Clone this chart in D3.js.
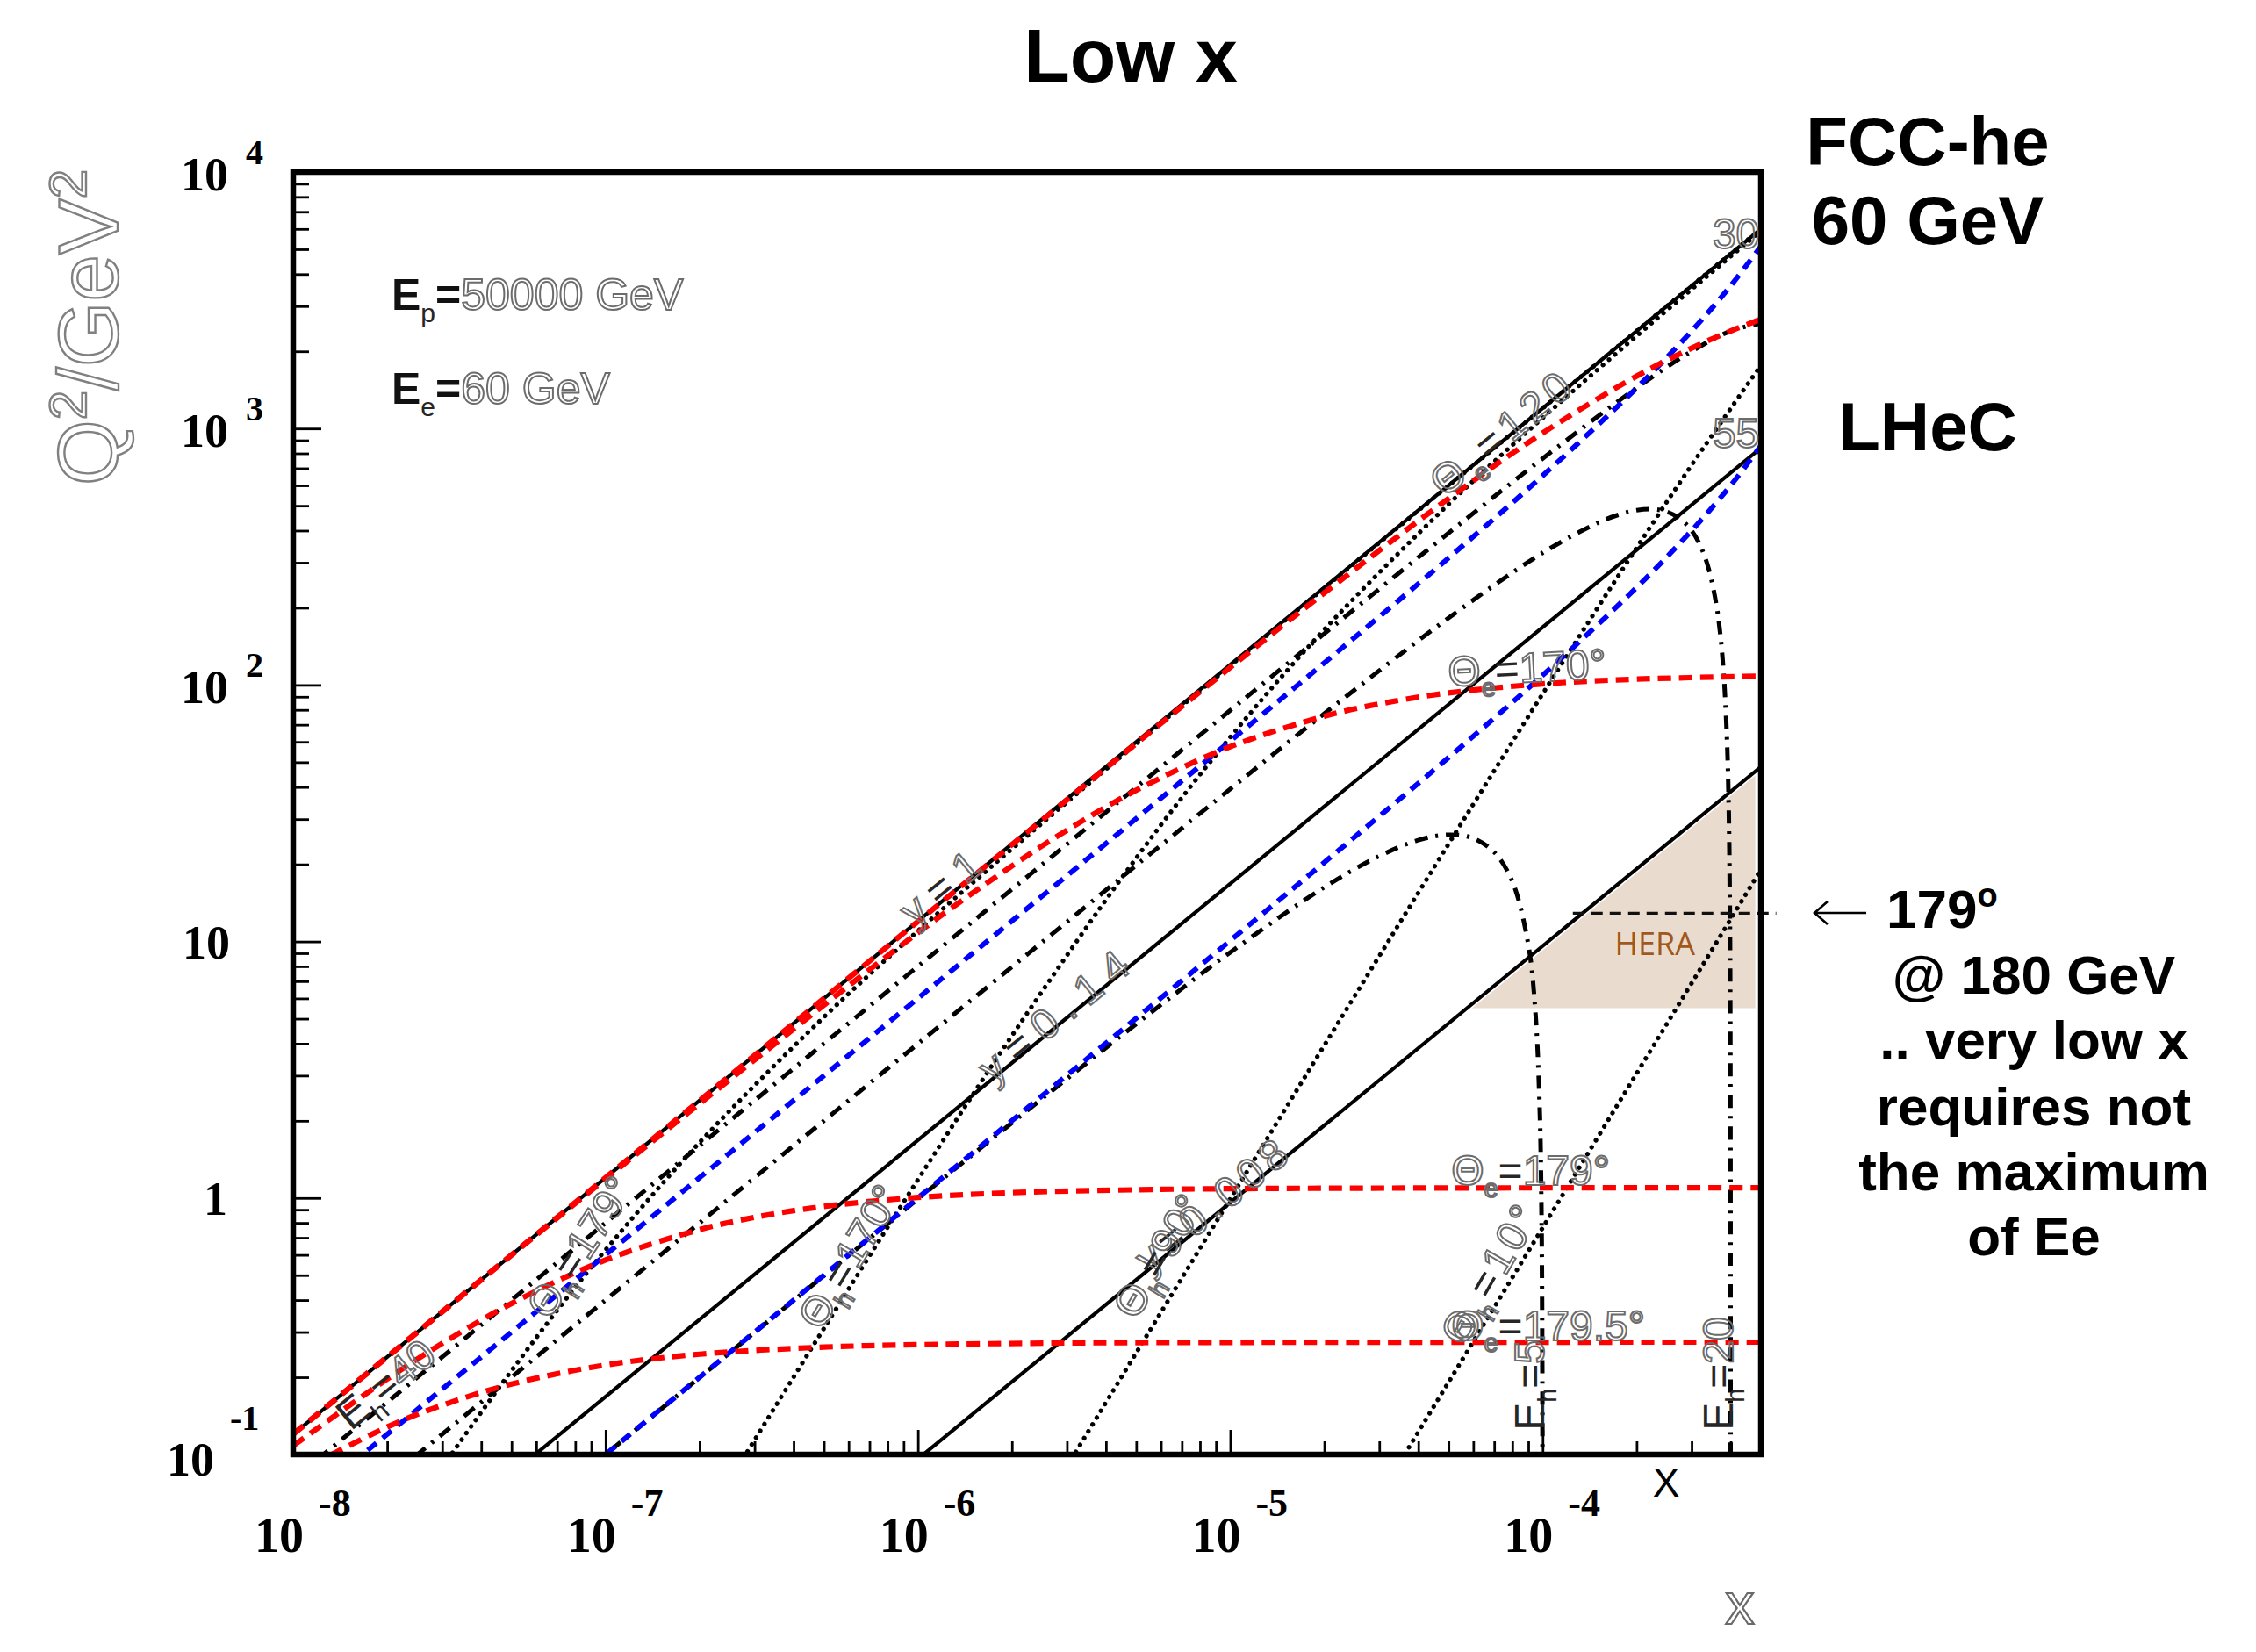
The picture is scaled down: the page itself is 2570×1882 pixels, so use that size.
<!DOCTYPE html>
<html>
<head>
<meta charset="utf-8">
<title>Low x</title>
<script src="https://cdn.jsdelivr.net/npm/d3@7/dist/d3.min.js"></script>
<style>
  html, body { margin: 0; padding: 0; background: #ffffff; }
  svg { display: block; }
</style>
</head>
<body>
<svg id="chart" width="2570" height="1882"></svg>
<script>
// ---------- axis ranges and tick labels ----------
const xDomain = [1e-8, 5e-4];
const yDomain = [0.1, 1e4];
const xTickExponents = [-8, -7, -6, -5, -4];
const yTickExponents = [4, 3, 2, 1, 0, -1];

// ---------- kinematic lines, points are [x, Q^2 (GeV^2)] ----------
// constant inelasticity y
const lineY1    = [[1e-8, 0.12], [5e-4, 6000]];
const lineY014  = [[5e-8, 0.084], [5e-4, 840]];
const lineY0008 = [[1e-6, 0.096], [5e-4, 48]];

// constant scattered-electron angle
const thetaE120 = [[1e-8, 0.12], [1e-7, 1.2], [1e-6, 11.97], [1e-5, 117.1], [2e-5, 228.6], [5e-5, 533.3],
                   [1e-4, 960], [2e-4, 1600], [3e-4, 2057], [4e-4, 2400], [5e-4, 2667]];
const thetaE170 = [[1e-8, 0.12], [1e-7, 1.187], [1e-6, 10.82], [2e-6, 19.71], [3e-6, 27.14], [5e-6, 38.86],
                   [1e-5, 57.47], [2e-5, 75.55], [3e-5, 84.41], [5e-5, 93.15], [1e-4, 101.0], [2e-4, 105.4], [5e-4, 108.3]];
const thetaE179 = [[1e-8, 0.1082], [2e-8, 0.1969], [3e-8, 0.2710], [5e-8, 0.3878], [1e-7, 0.5730], [2e-7, 0.7527],
                   [3e-7, 0.8406], [5e-7, 0.9271], [1e-6, 1.005], [2e-6, 1.049], [5e-6, 1.077], [1e-5, 1.0875],
                   [1e-4, 1.0956], [5e-4, 1.0964]];
const thetaE1795 = [[1e-8, 0.08347], [2e-8, 0.1280], [3e-8, 0.1556], [5e-8, 0.1882], [1e-7, 0.2232], [2e-7, 0.2461],
                    [5e-7, 0.2622], [1e-6, 0.2680], [3e-6, 0.2721], [1e-5, 0.2735], [5e-4, 0.2742]];

// constant scattered-electron energy
const eElec30 = [[1e-8, 0.06], [1e-7, 0.6], [1e-6, 6.005], [1e-5, 60.5], [2e-5, 122.0], [5e-5, 313.0],
                 [1e-4, 654.5], [2e-4, 1440], [3e-4, 2400], [4e-4, 3600], [5e-4, 5143]];
const eElec55 = [[1e-8, 0.01], [1e-7, 0.1], [1e-6, 1.0008], [1e-5, 10.08], [2e-5, 20.34], [5e-5, 52.17],
                 [1e-4, 109.1], [2e-4, 240], [3e-4, 400], [4e-4, 600], [5e-4, 857.1]];

// constant hadronic final-state energy
const eHad40 = [[1e-8, 0.08], [1e-7, 0.8], [1e-6, 7.997], [1e-5, 79.66], [2e-5, 158.6], [5e-5, 391.3],
                [1e-4, 763.6], [2e-4, 1440], [3e-4, 2000], [4e-4, 2400], [5e-4, 2571]];
const eHad20 = [[1e-8, 0.04], [1e-7, 0.4], [1e-6, 3.993], [1e-5, 39.33], [2e-5, 77.29], [5e-5, 182.6],
                [1e-4, 327.3], [1.5e-4, 428.6], [1.75e-4, 461.0], [2e-4, 480], [2.25e-4, 484.6], [2.5e-4, 473.7],
                [2.75e-4, 445.9], [3e-4, 400], [3.2e-4, 349.1], [3.4e-4, 284.7], [3.6e-4, 205.7], [3.7e-4, 160.5],
                [3.8e-4, 111.2], [3.9e-4, 57.78], [3.95e-4, 29.44], [3.98e-4, 11.91], [3.99e-4, 5.977],
                [3.995e-4, 2.994], [3.998e-4, 1.199], [3.999e-4, 0.5998], [3.9998e-4, 0.12], [3.99995e-4, 0.03]];
const eHad5 = [[1e-8, 0.01], [1e-7, 0.1], [1e-6, 0.9908], [2e-6, 1.963], [5e-6, 4.770], [1e-5, 9.076],
               [2e-5, 16.27], [3e-5, 21.54], [4e-5, 24.83], [5e-5, 26.09], [6e-5, 25.26], [7e-5, 22.30],
               [8e-5, 17.14], [9e-5, 9.730], [9.5e-5, 5.158], [9.8e-5, 2.134], [9.9e-5, 1.079],
               [9.95e-5, 0.5425], [9.98e-5, 0.2177], [9.99e-5, 0.109], [9.995e-5, 0.0545]];

// constant hadronic angle
const thetaH179 = [[1e-8, 0.01184], [2e-8, 0.04309], [3e-8, 0.08898], [4e-8, 0.1461], [5e-8, 0.2122], [7e-8, 0.3644],
                   [1e-7, 0.6270], [2e-7, 1.647], [5e-7, 5.073], [1e-6, 10.995], [2e-6, 22.95], [5e-6, 58.92],
                   [1e-5, 118.9], [1e-4, 1198.9], [5e-4, 5998.9]];
const thetaH170 = [[1e-7, 0.0129], [2e-7, 0.05115], [3e-7, 0.1139], [5e-7, 0.3098], [1e-6, 1.178], [2e-6, 4.291],
                   [5e-6, 21.15], [1e-5, 62.55], [2e-5, 164.5], [5e-5, 506.9], [1e-4, 1099], [2e-4, 2295], [5e-4, 5892]];
const thetaH90  = [[1e-6, 0.00999], [2e-6, 0.03993], [3e-6, 0.08978], [4e-6, 0.1595], [5e-6, 0.2490], [1e-5, 0.9917],
                   [2e-5, 3.934], [5e-5, 24.0], [1e-4, 92.31], [2e-4, 342.9], [3e-4, 720], [5e-4, 1765]];
const thetaH10  = [[1e-5, 0.00765], [2e-5, 0.03061], [3e-5, 0.06888], [4e-5, 0.1224], [5e-5, 0.1913], [1e-4, 0.7649],
                   [2e-4, 3.058], [3e-4, 6.876], [5e-4, 19.08]];

// HERA region and the 179 degree reference
const heraRegion = [[5.95e-5, 5.5], [4.8e-4, 44.4], [4.8e-4, 5.5]];
const heraLabelAt = [2.29e-4, 8.85];
const hera179Line = [[1.25e-4, 12.9], [5.6e-4, 12.9]];

// ---------- layout ----------
const svg = d3.select("#chart");
const frame = { left: 334, right: 2006, top: 196, bottom: 1657 };
const x = d3.scaleLog().domain(xDomain).range([frame.left, frame.right]);
const y = d3.scaleLog().domain(yDomain).range([frame.bottom, frame.top]);

svg.append("rect").attr("width", 2570).attr("height", 1882).attr("fill", "#ffffff");

svg.append("defs").append("clipPath").attr("id", "plotClip")
  .append("rect")
  .attr("x", frame.left).attr("y", frame.top)
  .attr("width", frame.right - frame.left).attr("height", frame.bottom - frame.top);

const plot = svg.append("g").attr("clip-path", "url(#plotClip)");

const straight = d3.line().x(d => x(d[0])).y(d => y(d[1]));
const smooth = d3.line().x(d => x(d[0])).y(d => y(d[1])).curve(d3.curveCatmullRom.alpha(0.5));

// shaded HERA area
plot.append("path")
  .attr("d", straight(heraRegion) + "Z")
  .attr("fill", "#e9dccf")
  .attr("stroke", "none");

const styles = {
  solid:   { stroke: "#000000", width: 4.2, dash: null, cap: "butt" },
  dotted:  { stroke: "#000000", width: 5.2, dash: "0.1 9", cap: "round" },
  dashdot: { stroke: "#000000", width: 5.0, dash: "15 9 3 9", cap: "butt" },
  blue:    { stroke: "#0000ff", width: 5.8, dash: "13 9", cap: "butt" },
  red:     { stroke: "#ff0000", width: 6.2, dash: "15 9", cap: "butt" }
};

const series = [
  { data: lineY1, style: "solid" },
  { data: lineY014, style: "solid" },
  { data: lineY0008, style: "solid" },
  { data: thetaH179, style: "dotted" },
  { data: thetaH170, style: "dotted" },
  { data: thetaH90, style: "dotted" },
  { data: thetaH10, style: "dotted" },
  { data: eHad40, style: "dashdot" },
  { data: eHad20, style: "dashdot" },
  { data: eHad5, style: "dashdot" },
  { data: eElec30, style: "blue" },
  { data: eElec55, style: "blue" },
  { data: thetaE120, style: "red" },
  { data: thetaE170, style: "red" },
  { data: thetaE179, style: "red" },
  { data: thetaE1795, style: "red" }
];

plot.selectAll("path.kin")
  .data(series)
  .join("path")
  .attr("class", "kin")
  .attr("d", d => smooth(d.data))
  .attr("fill", "none")
  .attr("stroke", d => styles[d.style].stroke)
  .attr("stroke-width", d => styles[d.style].width)
  .attr("stroke-dasharray", d => styles[d.style].dash)
  .attr("stroke-linecap", d => styles[d.style].cap);

// dashed 179 degree reference line reaching past the frame
svg.append("path")
  .attr("d", straight(hera179Line))
  .attr("fill", "none")
  .attr("stroke", "#111111")
  .attr("stroke-width", 3.2)
  .attr("stroke-dasharray", "13 8");

svg.append("text")
  .attr("x", x(heraLabelAt[0])).attr("y", y(heraLabelAt[1]))
  .attr("text-anchor", "middle")
  .attr("font-family", "'Open Sans', 'Noto Sans', sans-serif")
  .attr("font-size", 36)
  .attr("fill", "#a0581c")
  .text("HERA");

// ---------- axes (ticks drawn inward) ----------
const isMajor = v => Math.abs(Math.log10(v) - Math.round(Math.log10(v))) < 1e-9;
const xAll = x.ticks().filter(v => v >= xDomain[0] && v < xDomain[1]);
const yAll = y.ticks().filter(v => v >= yDomain[0] && v <= yDomain[1]);

function tickAxis(axis, transform) {
  const g = svg.append("g").attr("transform", transform).call(axis);
  g.select(".domain").remove();
  g.selectAll("line").attr("stroke", "#000").attr("stroke-width", 2.8);
  g.selectAll("text").remove();
}
tickAxis(d3.axisBottom(x).tickValues(xAll.filter(v => !isMajor(v))).tickSize(-15), `translate(0,${frame.bottom})`);
tickAxis(d3.axisBottom(x).tickValues(xAll.filter(isMajor)).tickSize(-28), `translate(0,${frame.bottom})`);
tickAxis(d3.axisLeft(y).tickValues(yAll.filter(v => !isMajor(v))).tickSize(-18), `translate(${frame.left},0)`);
tickAxis(d3.axisLeft(y).tickValues(yAll.filter(isMajor)).tickSize(-32), `translate(${frame.left},0)`);

// frame
svg.append("rect")
  .attr("x", frame.left).attr("y", frame.top)
  .attr("width", frame.right - frame.left).attr("height", frame.bottom - frame.top)
  .attr("fill", "none").attr("stroke", "#000").attr("stroke-width", 6.5);

// ---------- tick labels ----------
const serif = "'Liberation Serif', 'Times New Roman', serif";
const xLab = svg.append("g").attr("font-family", serif).attr("font-weight", "bold").attr("fill", "#000");
xTickExponents.forEach(e => {
  const px = x(Math.pow(10, e));
  xLab.append("text").attr("x", px + 12).attr("y", 1768).attr("text-anchor", "end").attr("font-size", 56).text("10");
  xLab.append("text").attr("x", px + 29).attr("y", 1727).attr("font-size", 44).text(String(e));
});

const yLab = svg.append("g").attr("font-family", serif).attr("font-weight", "bold").attr("fill", "#000");
yTickExponents.forEach(e => {
  const py = y(Math.pow(10, e));
  if (e >= 2) {
    yLab.append("text").attr("x", 260).attr("y", py + 21).attr("text-anchor", "end").attr("font-size", 54).text("10");
    yLab.append("text").attr("x", 280).attr("y", py - 9).attr("font-size", 40).text(String(e));
  } else if (e === 1) {
    yLab.append("text").attr("x", 262).attr("y", py + 19).attr("text-anchor", "end").attr("font-size", 54).text("10");
  } else if (e === 0) {
    yLab.append("text").attr("x", 259).attr("y", py + 19).attr("text-anchor", "end").attr("font-size", 54).text("1");
  } else {
    yLab.append("text").attr("x", 244).attr("y", py + 24).attr("text-anchor", "end").attr("font-size", 54).text("10");
    yLab.append("text").attr("x", 262).attr("y", py - 28).attr("font-size", 40).text(String(e));
  }
});

// ---------- outlined (hollow) text helpers ----------
const sans = "'Liberation Sans', Arial, sans-serif";
const hollowStroke = "#6c6c6c";
function styledText(parent, parts, size, spacing) {
  const t = parent.append("text")
    .attr("font-family", sans)
    .attr("font-size", size)
    .attr("letter-spacing", spacing || 0);
  let shifted = 0;
  parts.forEach(([str, kind]) => {
    const sp = t.append("tspan").text(str);
    const isSub = kind === "s" || kind === "ds";
    const want = isSub ? size * 0.28 : 0;
    if (want !== shifted) { sp.attr("dy", want - shifted); shifted = want; }
    if (isSub) sp.attr("font-size", size * 0.6);
    if (kind === "h" || kind === "s") {
      sp.attr("fill", "none").attr("stroke", hollowStroke).attr("stroke-width", 2);
    } else if (kind === "D") {
      sp.attr("fill", "#111").attr("font-weight", "bold");
    } else {
      sp.attr("fill", "#262626");
    }
  });
  return t;
}

// curve labels, anchored at the start of their baseline
const curveLabels = [
  { parts: [["y", "h"], ["=", "d"], ["1", "h"]], at: [9.6e-7, 11.6], angle: -39.4, dy: 4, spacing: 12 },
  { parts: [["y", "h"], ["=", "d"], ["0.14", "h"]], at: [1.7e-6, 2.86], angle: -39.4, dy: 6, spacing: 12 },
  { parts: [["y", "h"], ["=", "d"], ["0.008", "h"]], at: [5.4e-6, 0.52], angle: -39.4, dy: 6, spacing: 6 },
  { parts: [["Θ", "h"], ["e", "s"], ["=", "d"], ["120", "h"]], at: [4.7e-5, 560], angle: -39.4, dy: 8, spacing: 6 },
  { parts: [["Θ", "h"], ["e", "s"], ["=", "d"], ["170°", "h"]], at: [5.0e-5, 98.7], angle: -3, dy: 0 },
  { parts: [["Θ", "h"], ["e", "s"], ["=", "d"], ["179°", "h"]], at: [5.1e-5, 1.12], angle: 0, dy: 0 },
  { parts: [["Θ", "h"], ["e", "s"], ["=", "d"], ["179.5°", "h"]], at: [5.1e-5, 0.279], angle: 0, dy: 0 },
  { parts: [["Θ", "h"], ["h", "s"], ["=", "d"], ["179°", "h"]], at: [6.6e-8, 0.33], angle: -57, dy: 0 },
  { parts: [["Θ", "h"], ["h", "s"], ["=", "d"], ["170°", "h"]], at: [4.9e-7, 0.30], angle: -59, dy: 0 },
  { parts: [["Θ", "h"], ["h", "s"], ["=", "d"], ["90°", "h"]], at: [5.0e-6, 0.33], angle: -59, dy: 0 },
  { parts: [["Θ", "h"], ["h", "s"], ["=", "d"], ["10°", "h"]], at: [5.6e-5, 0.26], angle: -60, dy: 0, spacing: 4 },
  { parts: [["E", "d"], ["h", "ds"], ["=", "d"], ["40", "h"]], at: [1.53e-8, 0.123], angle: -39.4, dy: 0 },
  { parts: [["E", "d"], ["h", "ds"], ["=", "d"], ["5", "h"]], at: [1e-4, 0.124], angle: -90, dy: 2 },
  { parts: [["E", "d"], ["h", "ds"], ["=", "d"], ["20", "h"]], at: [4e-4, 0.124], angle: -90, dy: 2 },
  { parts: [["30", "h"]], at: [3.5e-4, 5040], angle: 0, dy: 0 },
  { parts: [["55", "h"]], at: [3.5e-4, 842], angle: 0, dy: 0 }
];
const labelLayer = svg.append("g");
curveLabels.forEach(l => {
  const g = labelLayer.append("g")
    .attr("transform", `translate(${x(l.at[0])},${y(l.at[1])}) rotate(${l.angle}) translate(0,${l.dy})`);
  styledText(g, l.parts, 48, l.spacing);
});

// beam energies
styledText(svg.append("g").attr("transform", "translate(446,353)"),
  [["E", "D"], ["p", "ds"], ["=", "D"], ["50000 GeV", "h"]], 50, 0);
styledText(svg.append("g").attr("transform", "translate(446,460)"),
  [["E", "D"], ["e", "ds"], ["=", "D"], ["60 GeV", "h"]], 50, 0);

// axis titles
const yTitle = svg.append("text")
  .attr("transform", "translate(134,553) rotate(-90)")
  .attr("font-family", sans).attr("font-size", 96)
  .attr("fill", "none").attr("stroke", "#808080").attr("stroke-width", 2.4);
yTitle.append("tspan").text("Q");
yTitle.append("tspan").attr("dy", -36).attr("font-size", 60).text("2");
yTitle.append("tspan").attr("dy", 36).text("/GeV");
yTitle.append("tspan").attr("dy", -36).attr("font-size", 60).text("2");

svg.append("text")
  .attr("x", 1982).attr("y", 1850).attr("text-anchor", "middle")
  .attr("font-family", sans).attr("font-size", 66)
  .attr("fill", "none").attr("stroke", "#6a6a6a").attr("stroke-width", 2.2)
  .text("x");

svg.append("text")
  .attr("x", 1898).attr("y", 1705).attr("text-anchor", "middle")
  .attr("font-family", sans).attr("font-size", 46).attr("fill", "#000")
  .text("X");

// ---------- titles and notes ----------
const bold = g => g.attr("font-family", sans).attr("font-weight", "bold").attr("fill", "#000");

bold(svg.append("text")).attr("x", 1288).attr("y", 93).attr("text-anchor", "middle")
  .attr("font-size", 86).text("Low x");

const side = bold(svg.append("g")).attr("font-size", 78).attr("text-anchor", "middle");
side.append("text").attr("x", 2196).attr("y", 188).text("FCC-he");
side.append("text").attr("x", 2196).attr("y", 278).text("60 GeV");
side.append("text").attr("x", 2196).attr("y", 513).text("LHeC");

// arrow pointing to the 179 degree line
svg.append("path")
  .attr("d", "M2126,1040 L2067,1040 M2082,1027 L2067,1040 L2082,1053")
  .attr("fill", "none").attr("stroke", "#000").attr("stroke-width", 2.6);

const note = bold(svg.append("g")).attr("font-size", 62);
const first = note.append("text").attr("x", 2149).attr("y", 1057);
first.append("tspan").text("179");
first.append("tspan").attr("dy", -24).attr("font-size", 38).text("o");

const noteLines = ["@ 180 GeV", ".. very low x", "requires not", "the maximum", "of Ee"];
const noteBaselines = [1132, 1206, 1282, 1356, 1430];
note.selectAll("text.line")
  .data(noteLines)
  .join("text")
  .attr("class", "line")
  .attr("x", 2317)
  .attr("y", (d, i) => noteBaselines[i])
  .attr("text-anchor", "middle")
  .text(d => d);
</script>
</body>
</html>
